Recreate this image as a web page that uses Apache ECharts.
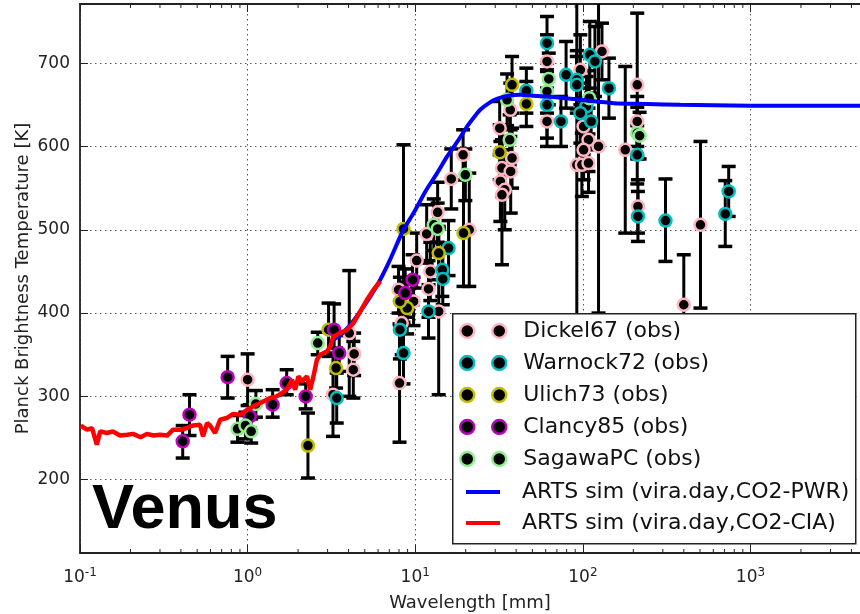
<!DOCTYPE html>
<html>
<head>
<meta charset="utf-8">
<script src="https://cdn.jsdelivr.net/npm/echarts@6/dist/echarts.min.js"></script>
<style>
  html, body { margin: 0; padding: 0; background: #fff; }
  #chart { width: 860px; height: 614px; }
</style>
</head>
<body>
<div id="chart"></div>
<script>
// rows: [wavelength mm, T K, lower, upper]
const dickel67 = [
  [1.0, 320, 289, 351], [3.23, 302, 252, 352], [4.04, 376, 300, 451], [4.32, 351, 325, 376],
  [4.27, 332, 298, 366], [8.06, 316, 245, 387], [8.3, 388, 350, 426], [7.95, 428, 400, 456],
  [9.77, 414, 385, 443], [10.2, 463, 430, 496], [11.7, 495, 460, 530], [12.0, 429, 395, 463],
  [12.3, 450, 415, 485], [13.8, 402, 302, 502], [13.6, 521, 485, 557], [16.4, 561, 525, 597],
  [19.3, 590, 560, 620], [21.0, 500, 432, 568], [31.9, 622, 590, 654], [36.9, 644, 612, 676],
  [37.8, 586, 550, 622], [32.9, 574, 540, 608], [37.1, 570, 520, 620], [32.2, 558, 510, 606],
  [34.2, 548, 500, 596], [32.9, 542, 458, 626], [61.1, 702, 670, 734], [61.1, 630, 600, 660],
  [96.6, 692, 650, 734], [130, 714, 680, 748], [101, 624, 590, 658], [108, 608, 570, 646],
  [124, 600, 400, 800], [101, 596, 560, 632], [92, 578, 300, 856], [98.6, 578, 540, 616],
  [108, 580, 545, 615], [179, 596, 496, 696], [211, 674, 588, 760], [211, 630, 600, 660],
  [213, 528, 496, 560], [400, 410, 350, 470], [503, 506, 406, 606]
];
const warnock72 = [
  [3.40, 298, 268, 328], [8.1, 380, 345, 415], [8.51, 352, 315, 389], [12.0, 402, 370, 434],
  [14.5, 452, 420, 484], [14.6, 441, 410, 472], [15.8, 478, 445, 511], [46.0, 667, 640, 694],
  [61.1, 724, 700, 756], [61.1, 650, 610, 690], [79.4, 686, 646, 726], [74, 630, 600, 660],
  [110, 710, 670, 750], [118, 702, 660, 744], [92, 680, 645, 715], [92, 674, 640, 708],
  [143, 670, 634, 706], [105, 648, 612, 684], [96.6, 640, 604, 676], [112, 630, 596, 664],
  [211, 590, 555, 625], [213, 516, 486, 546], [311, 511, 462, 561], [741, 546, 516, 576],
  [707, 519, 480, 559]
];
const ulich73 = [
  [2.29, 241, 202, 280], [3.04, 380, 348, 412], [3.37, 334, 310, 358], [8.51, 501, 400, 602],
  [8.95, 406, 375, 437], [8.1, 414, 385, 443], [13.8, 472, 440, 504], [19.4, 496, 432, 560],
  [37.8, 674, 640, 708], [46.0, 651, 624, 678], [31.9, 593, 560, 626]
];
const clancy85 = [
  [0.41, 246, 226, 265], [0.45, 278, 253, 302], [0.76, 323, 298, 348], [1.03, 276, 262, 290],
  [1.41, 290, 275, 308], [1.71, 316, 302, 332], [2.22, 300, 285, 315], [3.28, 380, 350, 411],
  [3.52, 352, 330, 373], [9.64, 440, 410, 470], [8.71, 424, 395, 453]
];
const sagawaPC = [
  [0.87, 261, 245, 277], [0.97, 265, 249, 281], [1.05, 258, 244, 273], [1.12, 291, 275, 307],
  [2.62, 364, 350, 377], [12.9, 506, 475, 537], [13.6, 501, 470, 532], [19.9, 566, 535, 597],
  [35.3, 656, 625, 687], [36.6, 608, 578, 638], [62.6, 681, 650, 712], [61.1, 666, 640, 692],
  [109, 658, 625, 691], [211, 616, 585, 647], [218, 613, 585, 641]
];

const pwrWl = [3.25, 3.6, 4.1, 4.7, 5.4, 6.18, 7.0, 8.5, 9.77, 11.5, 13.5, 15.5, 18.0, 20.4,
  22.4, 24.4, 27.5, 30.7, 36, 42.4, 50, 61.1, 96.6, 153, 242, 382, 600, 1000, 2000, 4500];
const pwrT = [368, 374, 386, 402, 420, 440, 462, 500, 520, 546, 568, 588, 607, 624,
  635, 644, 652, 657, 661, 662, 661, 660, 656, 652, 651, 650, 649.5, 649, 649, 649];

const ciaWl = [0.101, 0.110, 0.118, 0.126, 0.132, 0.145, 0.157, 0.173, 0.191, 0.207, 0.230, 0.251,
  0.275, 0.300, 0.331, 0.359, 0.396, 0.436, 0.454, 0.473, 0.520, 0.542, 0.573, 0.597, 0.640, 0.685,
  0.751, 0.819, 0.902, 0.993, 1.08, 1.19, 1.30, 1.36, 1.49, 1.60, 1.71, 1.84, 1.92, 2.01, 2.11,
  2.26, 2.36, 2.47, 2.59, 2.71, 2.97, 3.11, 3.25, 3.57, 3.91, 4.28, 4.70, 5.15, 5.64, 6.18];
const ciaT = [265, 260, 262, 242, 258, 256, 258, 253, 254, 255, 251, 255,
  253, 254, 253, 260, 260, 262, 264, 265, 266, 252, 268, 265, 256, 272,
  274, 279, 278, 284, 288, 292, 296, 298, 300, 304, 308, 320, 308, 324, 318,
  324, 308, 324, 344, 350, 354, 360, 372, 376, 380, 388, 402, 416, 428, 438];

const obs = [
  { name: 'Dickel67 (obs)', rows: dickel67, edge: '#ffb6c1' },
  { name: 'Warnock72 (obs)', rows: warnock72, edge: '#00bfbf' },
  { name: 'Ulich73 (obs)', rows: ulich73, edge: '#bfbf00' },
  { name: 'Clancy85 (obs)', rows: clancy85, edge: '#bf00bf' },
  { name: 'SagawaPC (obs)', rows: sagawaPC, edge: '#90ee90' }
];

const X_MIN = 0.1, X_MAX = 4500, Y_MIN = 112, Y_MAX = 771;
const FONT = 'DejaVu Sans';

// minor tick positions of the log axis (2..9 per decade)
const minorTicks = [];
[0.1, 1, 10, 100, 1000].forEach(d => {
  for (let m = 2; m <= 9; m++) if (d * m < X_MAX) minorTicks.push([d * m]);
});

const chart = echarts.init(document.getElementById('chart'));

function renderErr(params, api) {
  const x = api.value(0);
  const top = api.coord([x, api.value(3)]);
  const bot = api.coord([x, api.value(2)]);
  const cs = params.coordSys;
  const y1 = Math.max(top[1], cs.y), y2 = Math.min(bot[1], cs.y + cs.height);
  const kids = [{
    type: 'line', shape: { x1: top[0], y1: y1, x2: top[0], y2: y2 },
    style: { stroke: '#000', lineWidth: 3 }
  }];
  [top, bot].forEach(p => {
    if (p[1] >= cs.y && p[1] <= cs.y + cs.height) {
      kids.push({
        type: 'line', shape: { x1: p[0] - 7, y1: p[1], x2: p[0] + 7, y2: p[1] },
        style: { stroke: '#000', lineWidth: 3.5 }
      });
    }
  });
  return { type: 'group', children: kids };
}

function renderMinor(params, api) {
  const v = api.value(0);
  const b = api.coord([v, Y_MIN]);
  const t = api.coord([v, Y_MAX]);
  return {
    type: 'group', children: [
      { type: 'line', shape: { x1: b[0], y1: b[1], x2: b[0], y2: b[1] - 4 }, style: { stroke: '#222', lineWidth: 1 } },
      { type: 'line', shape: { x1: t[0], y1: t[1], x2: t[0], y2: t[1] + 4 }, style: { stroke: '#222', lineWidth: 1 } }
    ]
  };
}

const series = [];
obs.forEach(o => {
  series.push({
    type: 'custom', name: o.name + ' err', renderItem: renderErr,
    data: o.rows, encode: { x: 0, y: [1, 2, 3] }, z: 2, silent: true
  });
  series.push({
    type: 'scatter', name: o.name, symbol: 'circle', symbolSize: 12,
    data: o.rows.map(r => [r[0], r[1]]),
    itemStyle: { color: '#000', borderColor: o.edge, borderWidth: 2.5, opacity: 1 },
    z: 2
  });
});
series.push({
  type: 'line', name: 'ARTS sim (vira.day,CO2-PWR)', showSymbol: false, symbol: 'none',
  smooth: 0.25,
  data: pwrWl.map((w, i) => [w, pwrT[i]]),
  lineStyle: { color: '#0000ff', width: 4 }, itemStyle: { color: '#0000ff' }, z: 3
});
series.push({
  type: 'line', name: 'ARTS sim (vira.day,CO2-CIA)', showSymbol: false, symbol: 'none',
  data: ciaWl.map((w, i) => [w, ciaT[i]]),
  lineStyle: { color: '#ff0000', width: 4.5 }, itemStyle: { color: '#ff0000' }, z: 3
});
series.push({
  type: 'custom', name: 'minor ticks', renderItem: renderMinor,
  data: minorTicks, encode: { x: 0 }, z: 4, silent: true
});

const dotted = { color: '#555', width: 1, type: [1.5, 3.5] };
const spine = { show: true, lineStyle: { color: '#222', width: 1.8 } };

const option = {
  animation: false,
  backgroundColor: '#fff',
  textStyle: { fontFamily: FONT },
  title: {
    text: 'Venus', left: 92, top: 479, padding: 0, z: 30,
    textStyle: { fontFamily: 'Liberation Sans', fontSize: 63, fontWeight: 'bold', color: '#000' }
  },
  grid: { left: 80, right: 0, top: 4, bottom: 61, outerBoundsMode: 'none' },
  xAxis: [{
    type: 'log', logBase: 10, min: X_MIN, max: X_MAX, position: 'bottom',
    name: 'Wavelength [mm]', nameLocation: 'middle', nameGap: 41, nameMoveOverlap: false,
    nameTextStyle: { fontFamily: FONT, fontSize: 18, color: '#222' },
    axisLine: spine,
    axisTick: { inside: true, length: 8, lineStyle: { color: '#222', width: 1 } },
    axisLabel: {
      margin: 14, showMaxLabel: false, color: '#222',
      formatter: v => '{b|10}{s|' + Math.round(Math.log10(v)) + '}',
      rich: {
        b: { fontFamily: FONT, fontSize: 17, color: '#222' },
        s: { fontFamily: FONT, fontSize: 12, color: '#222', padding: [0, 0, 9, 0] }
      }
    },
    splitLine: { show: true, lineStyle: dotted }
  }, {
    type: 'log', logBase: 10, min: X_MIN, max: X_MAX, position: 'top',
    axisLine: spine,
    axisTick: { inside: true, length: 8, lineStyle: { color: '#222', width: 1 } },
    axisLabel: { show: false },
    splitLine: { show: false }
  }],
  yAxis: [{
    type: 'value', min: Y_MIN, max: Y_MAX,
    name: 'Planck Brightness Temperature [K]', nameLocation: 'middle', nameGap: 48, nameMoveOverlap: false,
    nameTextStyle: { fontFamily: FONT, fontSize: 18, color: '#222' },
    axisLine: spine,
    axisTick: { inside: true, length: 8, lineStyle: { color: '#222', width: 1 } },
    axisLabel: { margin: 10, fontSize: 17, color: '#222', fontFamily: FONT, showMinLabel: false, showMaxLabel: false },
    splitLine: { show: true, lineStyle: dotted }
  }],
  graphic: [{
    type: 'rect', left: 452, top: 313, z: 10,
    shape: { width: 403, height: 230 },
    style: { fill: '#fff', stroke: '#222', lineWidth: 1.5 }
  }],
  legend: [{
    orient: 'vertical', left: 459, top: 320, padding: 0, itemGap: 10, z: 20,
    itemWidth: 46, itemHeight: 14, selectedMode: false,
    icon: 'path://M0,7a7,7 0 1,0 14,0a7,7 0 1,0 -14,0zM32,7a7,7 0 1,0 14,0a7,7 0 1,0 -14,0z',
    textStyle: { fontFamily: FONT, fontSize: 22, lineHeight: 22, color: '#111', padding: [0, 0, 0, 12] },
    data: obs.map(o => ({
      name: o.name,
      itemStyle: { color: '#000', borderColor: o.edge, borderWidth: 2.5 }
    }))
  }, {
    orient: 'vertical', left: 466, top: 481, padding: 0, itemGap: 9, z: 20,
    itemWidth: 34, itemHeight: 4, selectedMode: false, icon: 'rect',
    textStyle: { fontFamily: FONT, fontSize: 22, lineHeight: 22, color: '#111', padding: [0, 0, 0, 17] },
    data: ['ARTS sim (vira.day,CO2-PWR)', 'ARTS sim (vira.day,CO2-CIA)']
  }],
  series: series
};

chart.setOption(option);
</script>
</body>
</html>
